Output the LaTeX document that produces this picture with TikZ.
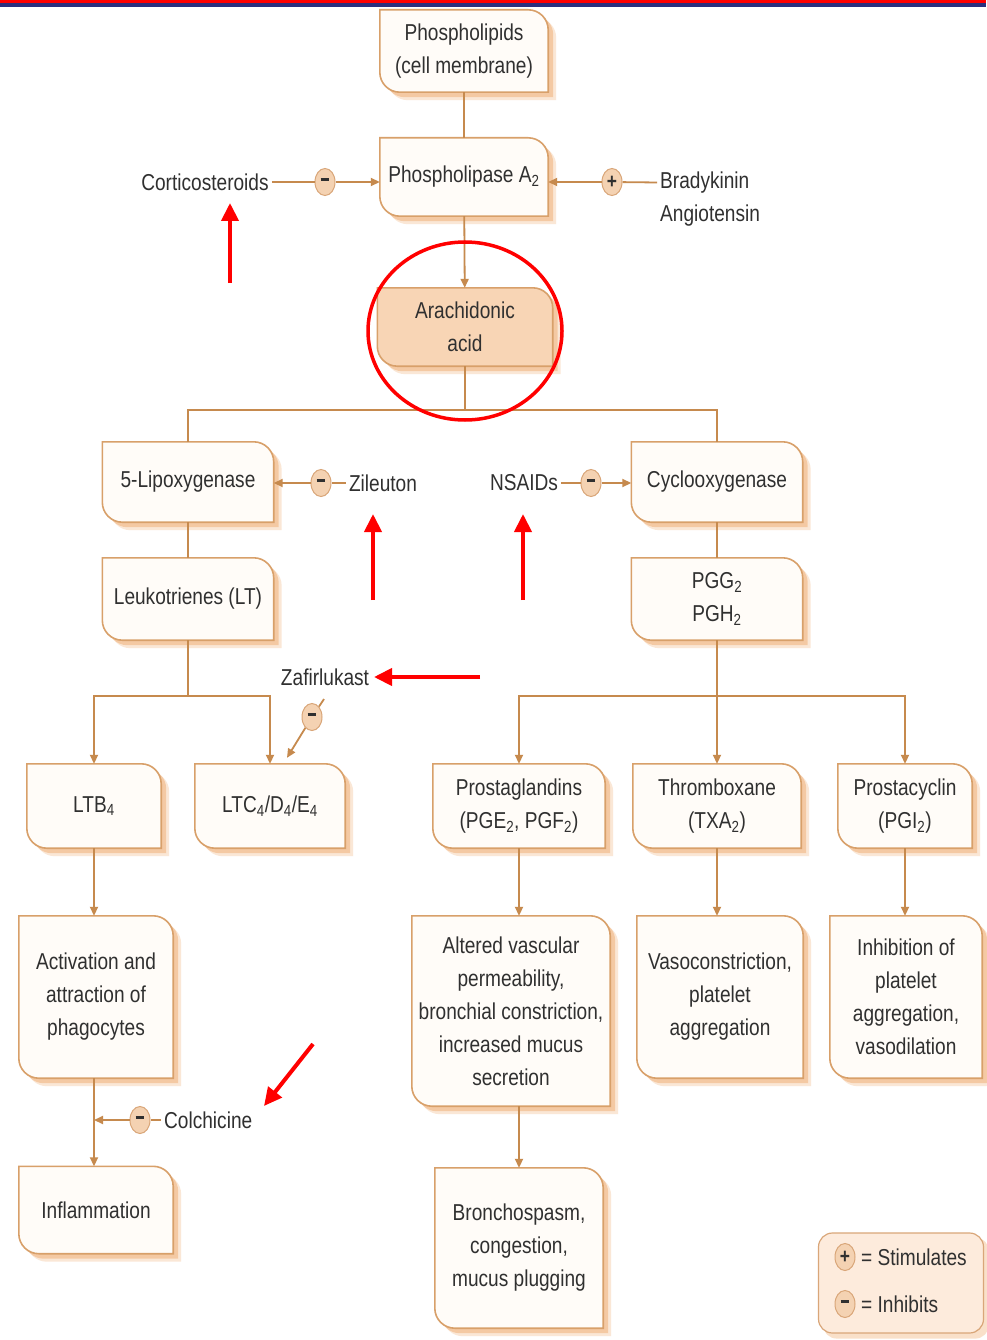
\documentclass[tikz,border=0pt]{standalone}
\usepackage{fontspec}
\setmainfont{Liberation Sans}[FakeStretch=0.83]
\usetikzlibrary{arrows.meta,shapes.geometric,backgrounds,calc}
\definecolor{bord}{HTML}{D8A06A}
\definecolor{conn}{HTML}{C68A4E}
\definecolor{shad}{HTML}{F0B27A}
\definecolor{txt}{HTML}{303030}
\definecolor{aafill}{HTML}{F8D5B5}
\definecolor{boxfill}{HTML}{FFFCF8}
\definecolor{symfill}{HTML}{F4D2B2}
\definecolor{symdraw}{HTML}{D9A679}
\definecolor{legfill}{HTML}{FDEBDC}
\definecolor{topblue}{HTML}{2B2F7E}
\newcommand\leafshape[2]{\path[#2] (#1.north west) -- ([xshift=-20pt]#1.north east) arc[start angle=90,end angle=0,radius=20pt] -- (#1.south east) -- ([xshift=20pt]#1.south west) arc[start angle=270,end angle=180,radius=20pt] -- cycle;}
\newcommand\boxdeco[2]{%
 \leafshape{#1}{fill=shad,opacity=.3,transform canvas={xshift=8pt,yshift=-8pt}}%
 \leafshape{#1}{fill=shad,opacity=.55,transform canvas={xshift=5pt,yshift=-5pt}}%
 \leafshape{#1}{fill=#2,draw=bord,line width=1.6pt}}
\newcommand\minussign{\rule[0.25em]{0.42em}{0.13em}}
\newcommand\plussign{\textbf{+}}
\begin{document}
\begin{tikzpicture}[x=1pt,y=-1pt,
  bx/.style={align=center,text=txt,inner sep=0pt,font=\fontsize{23}{33}\selectfont},
  lbl/.style={text=txt,inner sep=3pt,font=\fontsize{23}{33}\selectfont},
  sym/.style={ellipse,fill=symfill,draw=symdraw,line width=1pt,minimum width=20pt,minimum height=27pt,inner sep=0pt,text=txt,font=\fontsize{21}{21}\selectfont},
  line/.style={draw=conn,line width=1.8pt},
  arr/.style={line,-{Triangle[length=9pt,width=8pt]}},
  redarr/.style={draw=red,line width=4pt,-{Triangle[length=18pt,width=17pt]}}]
\useasboundingbox (0,0) rectangle (986,1340);
% top rules
\draw[red,line width=2.5pt] (0,1.5) -- (986,1.5);
\draw[topblue,line width=3.5pt] (0,5.2) -- (986,5.2);
% boxes
\node[bx,minimum width=168pt,minimum height=82pt] (phl) at (464,51) {Phospholipids\\(cell membrane)};
\node[bx,minimum width=168pt,minimum height=78pt] (pla2) at (464,177) {Phospholipase A\textsubscript{2}};
\node[bx,minimum width=175pt,minimum height=78pt] (aa) at (465,327) {Arachidonic\\acid};
\node[bx,minimum width=171pt,minimum height=80pt] (lox) at (188,482) {5-Lipoxygenase};
\node[bx,minimum width=171pt,minimum height=80pt] (cox) at (717,482) {Cyclooxygenase};
\node[bx,minimum width=171pt,minimum height=82pt] (lt) at (188,599) {Leukotrienes (LT)};
\node[bx,minimum width=171pt,minimum height=82pt] (pgg) at (717,599) {PGG\textsubscript{2}\\PGH\textsubscript{2}};
\node[bx,minimum width=134pt,minimum height=84pt] (ltb) at (94,806) {LTB\textsubscript{4}};
\node[bx,minimum width=150pt,minimum height=84pt] (ltc) at (270,806) {LTC\textsubscript{4}/D\textsubscript{4}/E\textsubscript{4}};
\node[bx,minimum width=172pt,minimum height=84pt] (pg) at (519,806) {Prostaglandins\\(PGE\textsubscript{2}, PGF\textsubscript{2})};
\node[bx,minimum width=168pt,minimum height=84pt] (tx) at (717,806) {Thromboxane\\(TXA\textsubscript{2})};
\node[bx,minimum width=134pt,minimum height=84pt] (pgi) at (905,806) {Prostacyclin\\(PGI\textsubscript{2})};
\node[bx,minimum width=154pt,minimum height=162pt] (act) at (96,997) {Activation and\\attraction of\\phagocytes};
\node[bx,minimum width=198pt,minimum height=190pt] (alt) at (511,1011) {Altered vascular\\permeability,\\bronchial constriction,\\increased mucus\\secretion};
\node[bx,minimum width=166pt,minimum height=162pt] (vaso) at (720,997) {Vasoconstriction,\\platelet\\aggregation};
\node[bx,minimum width=152pt,minimum height=162pt] (inh) at (906,997) {Inhibition of\\platelet\\aggregation,\\vasodilation};
\node[bx,minimum width=154pt,minimum height=87pt] (infl) at (96,1210) {Inflammation};
\node[bx,minimum width=168pt,minimum height=160pt] (bron) at (519,1248) {Bronchospasm,\\congestion,\\mucus plugging};
% main flow
\draw[line] (phl) -- (pla2);
\draw[arr] (pla2) -- (aa);
\coordinate (jL) at (188,410);
\coordinate (jR) at (717,410);
\draw[line] (aa.south) -- (aa.south |- jL);
\draw[line] (lox.north) -- (jL) -- (jR) -- (cox.north);
\draw[line] (lox) -- (lt);
\draw[line] (cox) -- (pgg);
\path (lt.south) ++(0,56) coordinate (k);
\draw[arr] (lt.south) -- (k) -| (ltb.north);
\draw[arr] (k) -| (ltc.north);
\path (pgg.south) ++(0,56) coordinate (m);
\draw[arr] (pgg.south) -- (m) -| (pg.north);
\draw[arr] (m) -- (tx.north);
\draw[arr] (m) -| (pgi.north);
\draw[arr] (ltb.south) -- (ltb.south |- act.north);
\draw[arr] (pg.south) -- (pg.south |- alt.north);
\draw[arr] (tx.south) -- (tx.south |- vaso.north);
\draw[arr] (pgi.south) -- (pgi.south |- inh.north);
\draw[arr] (ltb.south |- act.south) -- (ltb.south |- infl.north);
\draw[arr] (bron.north |- alt.south) -- (bron.north);
% modulators
\node[lbl] (cort) at (205,182) {Corticosteroids};
\node[sym] (m1) at (325,182) {\minussign};
\draw[line] (cort) -- (m1);
\draw[arr] (m1) -- (m1 -| pla2.west);
\node[lbl,anchor=west] (brad) at (657,183) {Bradykinin};
\node[lbl,anchor=west] (ang) at (657,216) {Angiotensin};
\node[sym] (p1) at (612,182) {\plussign};
\draw[line] (brad) -- (p1);
\draw[arr] (p1) -- (p1 -| pla2.east);
\node[lbl] (zil) at (383,483) {Zileuton};
\node[sym] (m2) at (321,483) {\minussign};
\draw[line] (zil) -- (m2);
\draw[arr] (m2) -- (m2 -| lox.east);
\node[lbl] (nsaid) at (524,483) {NSAIDs};
\node[sym] (m3) at (591,483) {\minussign};
\draw[line] (nsaid) -- (m3);
\draw[arr] (m3) -- (m3 -| cox.west);
\node[lbl] (zaf) at (325,677) {Zafirlukast};
\coordinate (z0) at (324,699);
\coordinate (z1) at ($(ltc.north)+(17,-6)$);
\node[sym] (m4) at (312,717) {\minussign};
\draw[line] (z0) -- (m4);
\draw[arr] (m4) -- (z1);
\node[lbl,anchor=west] (colch) at (161,1120) {Colchicine};
\node[sym] (m5) at (140,1120) {\minussign};
\draw[line] (colch) -- (m5);
\draw[arr] (m5) -- (m5 -| ltb.south);
% legend
\node[fill=legfill,draw=symdraw,line width=1.2pt,rounded corners=14pt,minimum width=165pt,minimum height=100pt] (leg) at (901,1283) {};
\node[sym] (lp) at (845,1257) {\plussign};
\node[lbl,anchor=west] (lpt) at (858,1257) {= Stimulates};
\node[sym] (lm) at (845,1304) {\minussign};
\node[lbl,anchor=west] (lmt) at (858,1304) {= Inhibits};
% red annotations
\coordinate (c0) at (465,331);
\draw[red,line width=3.5pt] (c0) ellipse [x radius=97pt,y radius=89pt];
\coordinate (r1a) at (230,283); \coordinate (r1b) at (230,203);
\coordinate (r2a) at (373,600); \coordinate (r2b) at (373,514);
\coordinate (r3a) at (523,600); \coordinate (r3b) at (523,514);
\coordinate (r4a) at (480,677); \coordinate (r4b) at (374,677);
\coordinate (r5a) at (313,1044); \coordinate (r5b) at (264,1106);
\draw[redarr] (r1a) -- (r1b);
\draw[redarr] (r2a) -- (r2b);
\draw[redarr] (r3a) -- (r3b);
\draw[redarr] (r4a) -- (r4b);
\draw[redarr] (r5a) -- (r5b);
% backgrounds
\begin{scope}[on background layer]
\fill[white] (0,0) rectangle (986,1340);
\fill[shad,opacity=.4,rounded corners=14pt,transform canvas={xshift=5pt,yshift=-5pt}] (leg.north west) rectangle (leg.south east);
\boxdeco{phl}{boxfill}
\boxdeco{pla2}{boxfill}
\boxdeco{aa}{aafill}
\boxdeco{lox}{boxfill}
\boxdeco{cox}{boxfill}
\boxdeco{lt}{boxfill}
\boxdeco{pgg}{boxfill}
\boxdeco{ltb}{boxfill}
\boxdeco{ltc}{boxfill}
\boxdeco{pg}{boxfill}
\boxdeco{tx}{boxfill}
\boxdeco{pgi}{boxfill}
\boxdeco{act}{boxfill}
\boxdeco{alt}{boxfill}
\boxdeco{vaso}{boxfill}
\boxdeco{inh}{boxfill}
\boxdeco{infl}{boxfill}
\boxdeco{bron}{boxfill}
\end{scope}
\end{tikzpicture}
\end{document}
